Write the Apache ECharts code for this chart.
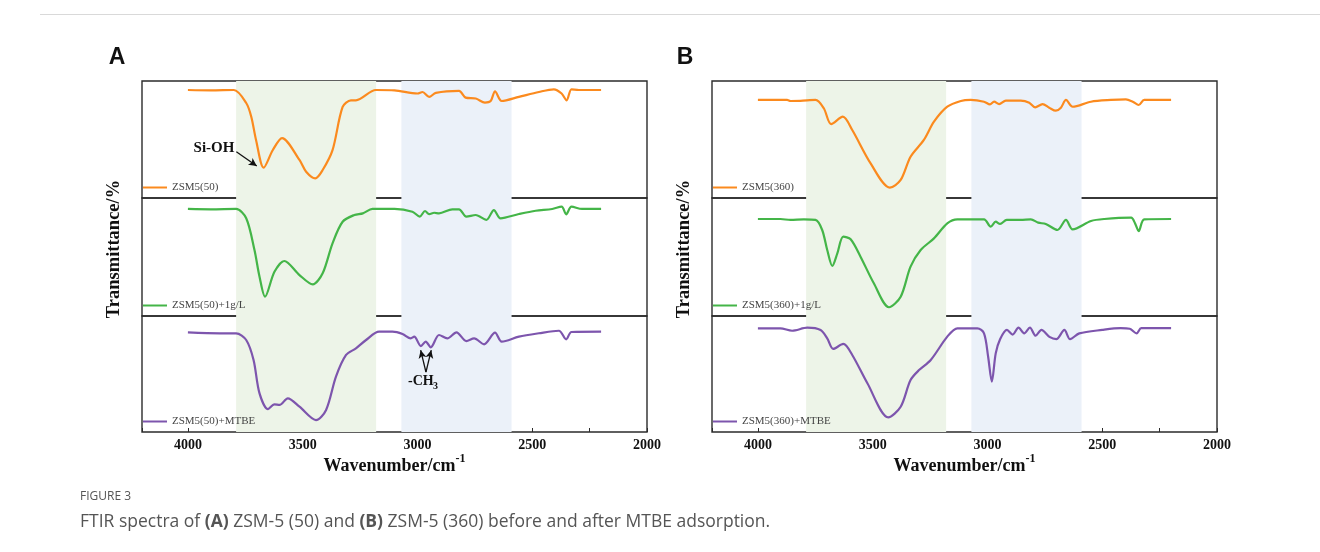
<!DOCTYPE html>
<html>
<head>
<meta charset="utf-8">
<script src="https://cdn.jsdelivr.net/npm/echarts@6/dist/echarts.min.js"></script>
<style>
html, body { margin: 0; padding: 0; background: #fff; }
#chart { width: 1320px; height: 552px; }
</style>
</head>
<body>
<div id="chart"></div>
<script>
// wavenumber (cm-1), relative transmittance inside each stacked strip (0-100)
const zsm50 = [[4000, 92.3], [3900, 92.0], [3800, 92.3], [3746, 81.2], [3724, 69.5], [3703, 49.4], [3670, 25.9], [3630, 41], [3590, 51.2], [3514, 32.5], [3485, 22.5], [3445, 16.8], [3413, 23.9], [3370, 40.9], [3326, 77.8], [3290, 83.5], [3268, 83.5], [3181, 92.3], [3100, 92.0], [3000, 89.3], [2978, 90.6], [2949, 86.4], [2920, 89.8], [2819, 91.5], [2790, 85.8], [2746, 85.0], [2706, 81.6], [2681, 82.9], [2662, 91.2], [2633, 82.9], [2558, 86.4], [2471, 90.6], [2406, 92.9], [2372, 89.3], [2350, 83.5], [2329, 92.9], [2297, 92.3], [2200, 92.3]]
const zsm50Water = [[4000, 90.7], [3900, 90.4], [3790, 90.7], [3746, 82.8], [3710, 55.9], [3688, 33.3], [3664, 16.4], [3623, 37.5], [3580, 46.6], [3514, 34.7], [3456, 26.8], [3413, 36.2], [3370, 61.6], [3326, 79.9], [3275, 85.6], [3238, 87], [3196, 90.7], [3100, 90.7], [3022, 88.4], [2990, 84.2], [2967, 89], [2949, 86.4], [2927, 87.5], [2906, 87], [2848, 90.4], [2819, 90.4], [2787, 84.2], [2746, 85.6], [2700, 81.4], [2667, 89.8], [2638, 82.8], [2558, 86.4], [2485, 89.2], [2413, 90.7], [2372, 92.7], [2352, 86.2], [2329, 92.7], [2283, 90.7], [2200, 90.7]]
const zsm50Mtbe = [[4000, 85.9], [3862, 85.1], [3790, 85.1], [3746, 79.3], [3714, 62.1], [3688, 33.3], [3651, 19.8], [3623, 23.9], [3601, 23.3], [3565, 29], [3514, 21.8], [3442, 10.3], [3398, 19], [3355, 47.7], [3311, 66.4], [3268, 72.1], [3224, 79.3], [3167, 86.5], [3109, 86.5], [3065, 84.5], [3029, 80.7], [3014, 82.2], [2985, 74.1], [2964, 77.9], [2942, 73], [2906, 83.6], [2870, 80.7], [2830, 85.9], [2787, 78.4], [2753, 80.7], [2710, 75.6], [2662, 85.6], [2633, 77.9], [2558, 82.2], [2471, 85.1], [2384, 87.3], [2352, 79.9], [2329, 86.2], [2200, 86.5]]
const zsm360 = [[4000, 83.8], [3873, 83.8], [3858, 82.9], [3815, 83], [3749, 83.8], [3713, 76.7], [3681, 63.2], [3630, 69.5], [3589, 58.1], [3509, 29.6], [3425, 8.8], [3378, 15.4], [3335, 35.3], [3277, 49.6], [3233, 65.2], [3175, 78], [3116, 82.9], [3073, 83.8], [3015, 82.3], [2989, 80], [2971, 82.3], [2949, 80.3], [2920, 83.2], [2855, 83.2], [2818, 81.5], [2792, 77.5], [2760, 80.3], [2731, 77.2], [2702, 74.6], [2680, 77.2], [2658, 83.8], [2629, 78], [2549, 82.3], [2462, 83.8], [2397, 84.3], [2367, 82.3], [2341, 79.5], [2317, 83.8], [2200, 83.8]]
const zsm360Water = [[4000, 82.2], [3902, 82.2], [3858, 81.4], [3800, 81.9], [3749, 81.4], [3720, 72.9], [3698, 55.9], [3676, 42.4], [3654, 53.1], [3628, 67.2], [3596, 65], [3553, 50.3], [3495, 27.7], [3429, 7.4], [3378, 16.4], [3335, 41.8], [3291, 55.9], [3233, 65.8], [3175, 78.5], [3131, 81.9], [3015, 81.9], [2986, 75.7], [2964, 79.9], [2945, 78], [2916, 81.4], [2855, 81.4], [2811, 81.9], [2779, 79.1], [2746, 78], [2695, 72.9], [2658, 81.4], [2629, 73.4], [2549, 80.5], [2491, 82.2], [2374, 83.3], [2357, 78.5], [2341, 72], [2317, 81.9], [2200, 82.2]]
const zsm360Mtbe = [[4000, 89.4], [3902, 89.4], [3851, 87.3], [3785, 89.9], [3727, 87.9], [3698, 80.7], [3672, 71.6], [3628, 75.9], [3589, 66.4], [3523, 42], [3432, 12.6], [3378, 21.8], [3335, 44.8], [3298, 53.4], [3247, 62.1], [3175, 82.2], [3131, 89.4], [3044, 89.4], [3015, 85.1], [2997, 64.9], [2981, 43.4], [2964, 67.8], [2945, 80], [2915, 88], [2890, 84], [2865, 90], [2840, 85], [2815, 90], [2790, 83], [2765, 88], [2730, 82], [2700, 80], [2665, 88], [2640, 80], [2600, 85], [2500, 88], [2420, 89.5], [2380, 89], [2350, 85], [2330, 89.5], [2200, 89.5]]

const seriesNames = ['ZSM5(50)', 'ZSM5(50)+1g/L', 'ZSM5(50)+MTBE', 'ZSM5(360)', 'ZSM5(360)+1g/L', 'ZSM5(360)+MTBE']
const spectra = [zsm50, zsm50Water, zsm50Mtbe, zsm360, zsm360Water, zsm360Mtbe]
const lineColors = ['#fb8a1e', '#44b548', '#7d55ad']
const greenBand = [3790, 3180]
const blueBand = [3070, 2590]

// annotation arrows, in data units of their strip
const siohArrow = [[3789, 39.6], [3700, 27.4]]
const ch3Arrows = [[[2963, 51.7], [2986, 70.5]], [[2963, 51.7], [2940, 70.5]]]

const panelLeft = [142, 712]
const panelWidth = 505
const rowTop = [81, 198, 316]
const rowHeight = [117, 118, 116]
const serif = 'Liberation Serif'

const grids = []
const xAxes = []
const yAxes = []
const series = []
const legends = []

function arrowLines(pairs) {
  return pairs.map(([a, b]) => [
    { coord: a, symbol: 'none' },
    { coord: b, symbol: 'arrow', symbolSize: [6, 8] },
  ])
}

spectra.forEach((data, i) => {
  const p = Math.floor(i / 3)
  const r = i % 3
  const isBottom = r === 2
  grids.push({
    left: panelLeft[p], top: rowTop[r], width: panelWidth, height: rowHeight[r],
    show: true, borderColor: '#2b2b2b', borderWidth: 1.4, backgroundColor: 'transparent',
  })
  xAxes.push({
    gridIndex: i, type: 'value', min: 2000, max: 4200, interval: 250, inverse: true,
    show: isBottom,
    axisLine: { show: false },
    axisTick: { show: true, inside: true, length: 4, lineStyle: { color: '#2b2b2b', width: 1 } },
    splitLine: { show: false },
    axisLabel: {
      color: '#111', fontFamily: serif, fontWeight: 'bold', fontSize: 14, margin: 6,
      formatter: (v) => (v % 500 === 0 && v <= 4000 ? String(v) : ''),
    },
    name: isBottom ? '{t|Wavenumber/cm}{s|-1}' : '',
    nameLocation: 'middle', nameGap: 20,
    nameTextStyle: {
      rich: {
        t: { fontFamily: serif, fontWeight: 'bold', fontSize: 18, color: '#111', lineHeight: 22, verticalAlign: 'bottom' },
        s: { fontFamily: serif, fontWeight: 'bold', fontSize: 12, color: '#111', lineHeight: 22, verticalAlign: 'top' },
      },
    },
  })
  yAxes.push({ gridIndex: i, type: 'value', min: 0, max: 100, show: false })
  legends.push({
    data: [seriesNames[i]], left: panelLeft[p] + 1, top: rowTop[r] + rowHeight[r] - 16,
    padding: 0, icon: 'rect', itemWidth: 24, itemHeight: 2, selectedMode: false,
    textStyle: { fontFamily: serif, fontSize: 11, color: '#444' },
  })
  const s = {
    name: seriesNames[i], type: 'line', xAxisIndex: i, yAxisIndex: i,
    data, smooth: 0.3, showSymbol: false, symbol: 'none', silent: true,
    lineStyle: { color: lineColors[r], width: 2.2 },
    itemStyle: { color: lineColors[r] },
    markArea: {
      silent: true,
      data: [
        [{ xAxis: greenBand[0], itemStyle: { color: '#edf4e8' } }, { xAxis: greenBand[1] }],
        [{ xAxis: blueBand[0], itemStyle: { color: '#ebf1f9' } }, { xAxis: blueBand[1] }],
      ],
    },
  }
  if (i === 0 || i === 2) {
    s.markLine = {
      silent: true, animation: false,
      label: { show: false },
      lineStyle: { color: '#111', width: 1.3, type: 'solid' },
      data: arrowLines(i === 0 ? [siohArrow] : ch3Arrows),
    }
  }
  series.push(s)
})

const textColor = '#111'
const graphic = [
  { type: 'line', shape: { x1: 40, y1: 14.5, x2: 1320, y2: 14.5 }, style: { stroke: '#d9d9d9', lineWidth: 1 } },
  { type: 'text', z: 100, x: 117, y: 58, style: { text: 'A', font: 'bold 23px "Liberation Sans"', fill: '#111', align: 'center', verticalAlign: 'middle' } },
  { type: 'text', z: 100, x: 685, y: 58, style: { text: 'B', font: 'bold 23px "Liberation Sans"', fill: '#111', align: 'center', verticalAlign: 'middle' } },
  { type: 'text', z: 100, x: 114, y: 249, rotation: Math.PI / 2, style: { text: 'Transmittance/%', font: 'bold 18.5px "Liberation Serif"', fill: textColor, align: 'center', verticalAlign: 'middle' } },
  { type: 'text', z: 100, x: 684, y: 249, rotation: Math.PI / 2, style: { text: 'Transmittance/%', font: 'bold 18.5px "Liberation Serif"', fill: textColor, align: 'center', verticalAlign: 'middle' } },
  { type: 'text', z: 100, x: 214, y: 148, style: { text: 'Si-OH', font: 'bold 15px "Liberation Serif"', fill: textColor, align: 'center', verticalAlign: 'middle' } },
  { type: 'text', z: 100, x: 408, y: 381, style: { text: '-CH', font: 'bold 14px "Liberation Serif"', fill: textColor, align: 'left', verticalAlign: 'middle' } },
  { type: 'text', z: 100, x: 433, y: 386, style: { text: '3', font: 'bold 10px "Liberation Serif"', fill: textColor, align: 'left', verticalAlign: 'middle' } },
  { type: 'text', z: 100, x: 80, y: 497, style: { text: 'FIGURE 3', font: '12px "Open Sans"', fill: '#555', align: 'left', verticalAlign: 'middle' } },
  {
    type: 'text', z: 100, x: 80, y: 522,
    style: {
      text: '{n|FTIR spectra of }{b|(A)}{n| ZSM-5 (50) and }{b|(B)}{n| ZSM-5 (360) before and after MTBE adsorption.}',
      align: 'left', verticalAlign: 'middle',
      rich: {
        n: { fontFamily: 'Open Sans', fontSize: 17.5, fill: '#555' },
        b: { fontFamily: 'Open Sans', fontSize: 17.5, fontWeight: 'bold', fill: '#555' },
      },
    },
  },
]

const chart = echarts.init(document.getElementById('chart'))
chart.setOption({
  animation: false,
  backgroundColor: '#fff',
  grid: grids,
  xAxis: xAxes,
  yAxis: yAxes,
  legend: legends,
  series,
  graphic,
})
</script>
</body>
</html>
